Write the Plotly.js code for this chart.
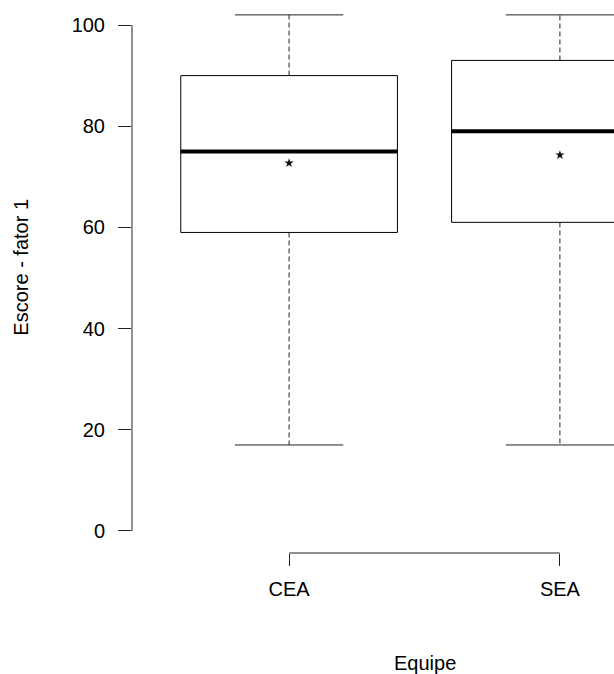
<!DOCTYPE html>
<html><head><meta charset="utf-8">
<script src="https://cdn.plot.ly/plotly-3.0.1.min.js"></script>
<style>html,body{margin:0;padding:0;overflow:hidden;background:#fff}#chart{width:740px;height:674px}</style>
</head><body><div id="chart"></div>
<script>
// Data
const groups = ['CEA', 'SEA'];
const positions = [1, 2];
const minimum = [17, 17];
const q1 = [59, 61];
const median = [75, 79];
const q3 = [90, 93];
const maximum = [102, 102];
const mean = [72.7, 74.3];
const yTicks = [0, 20, 40, 60, 80, 100];

const FONT = 'Liberation Sans, Arial, Helvetica, sans-serif';
const boxWidth = 0.8;
const capHalf = boxWidth / 4;
const medHalf = boxWidth / 2;

// whiskers (dashed)
const wx = [], wy = [];
// caps
const cx = [], cy = [];
// medians (thick)
const mx = [], my = [];
positions.forEach((p, i) => {
  wx.push(p, p, null, p, p, null);
  wy.push(q3[i], maximum[i], null, q1[i], minimum[i], null);
  cx.push(p - capHalf, p + capHalf, null, p - capHalf, p + capHalf, null);
  cy.push(maximum[i], maximum[i], null, minimum[i], minimum[i], null);
  mx.push(p - medHalf, p + medHalf, null);
  my.push(median[i], median[i], null);
});

const traces = [
  {
    type: 'box', x: positions, q1: q1, median: median, q3: q3,
    lowerfence: q1, upperfence: q3, width: boxWidth,
    fillcolor: '#ffffff', line: {color: '#000', width: 1},
    whiskerwidth: 0, boxpoints: false, hoverinfo: 'skip', showlegend: false
  },
  {type: 'scatter', mode: 'lines', x: wx, y: wy, line: {color: '#222', width: 1, dash: '5px,3px'}, hoverinfo: 'skip', showlegend: false},
  {type: 'scatter', mode: 'lines', x: cx, y: cy, line: {color: '#222', width: 1}, hoverinfo: 'skip', showlegend: false},
  {type: 'scatter', mode: 'lines', x: mx, y: my, line: {color: '#000', width: 4}, hoverinfo: 'skip', showlegend: false},
  {type: 'scatter', mode: 'markers', x: positions, y: mean,
   marker: {symbol: 'star', size: 7, color: '#111', line: {width: 0}},
   hoverinfo: 'skip', showlegend: false}
];

const layout = {
  width: 740, height: 674,
  margin: {l: 132, r: 23, t: 0, b: 121},
  paper_bgcolor: '#fff', plot_bgcolor: '#fff',
  font: {family: FONT, size: 20, color: '#000'},
  showlegend: false,
  xaxis: {
    range: [0.42, 2.58], tickvals: positions, ticktext: groups,
    ticks: 'outside', ticklen: 12, tickwidth: 1, tickcolor: '#222',
    showline: false, showgrid: false, zeroline: false,
    ticklabelstandoff: 6,
    tickfont: {family: FONT, size: 20, color: '#000'}
  },
  yaxis: {
    range: [-4.35, 104.94], tickvals: yTicks, ticktext: yTicks.map(String),
    ticks: 'outside', ticklen: 13, tickwidth: 1, tickcolor: '#222',
    showline: false, showgrid: false, zeroline: false,
    ticklabelstandoff: 9,
    tickfont: {family: FONT, size: 20, color: '#000'}
  },
  shapes: [
    {type: 'line', xref: 'x', yref: 'paper', x0: positions[0], x1: positions[positions.length - 1], y0: 0, y1: 0, line: {color: '#222', width: 1}},
    {type: 'line', xref: 'paper', yref: 'y', x0: 0, x1: 0, y0: yTicks[0], y1: yTicks[yTicks.length - 1], line: {color: '#222', width: 1}}
  ],
  annotations: [
    {text: 'Equipe', xref: 'paper', yref: 'paper', x: 0.5, y: -0.199, xanchor: 'center', yanchor: 'middle', showarrow: false, font: {family: FONT, size: 20, color: '#000'}},
    {text: 'Escore - fator 1', xref: 'paper', yref: 'paper', x: -0.1897, y: 0.516, xanchor: 'center', yanchor: 'middle', textangle: -90, showarrow: false, font: {family: FONT, size: 20, color: '#000'}}
  ]
};

Plotly.newPlot('chart', traces, layout, {staticPlot: true, displayModeBar: false});
</script>
</body></html>
